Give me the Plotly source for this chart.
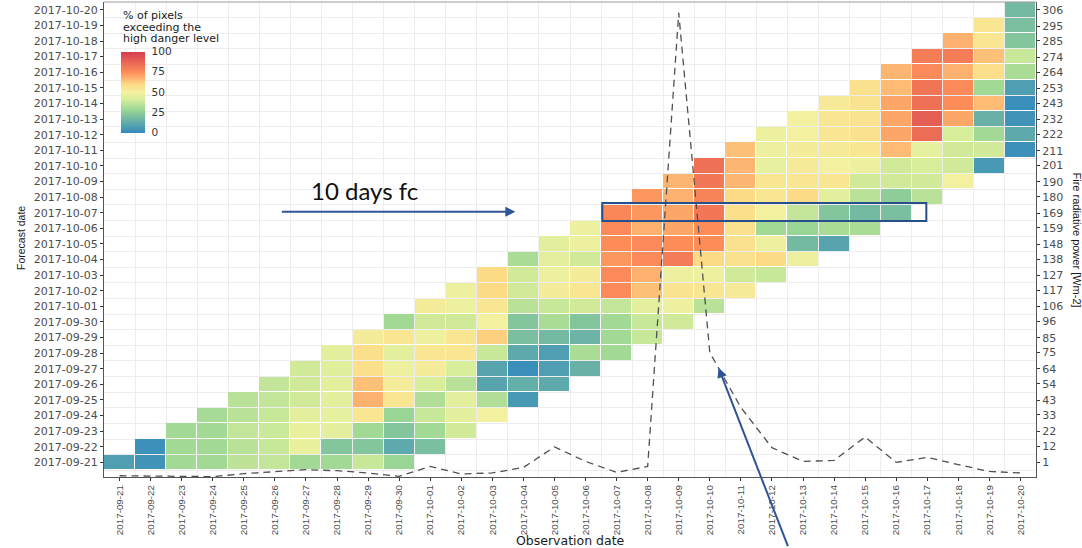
import pandas as pd
import plotly.graph_objects as go

# ---------------- data ----------------
dates = ["2017-09-21", "2017-09-22", "2017-09-23", "2017-09-24", "2017-09-25",
         "2017-09-26", "2017-09-27", "2017-09-28", "2017-09-29", "2017-09-30",
         "2017-10-01", "2017-10-02", "2017-10-03", "2017-10-04", "2017-10-05",
         "2017-10-06", "2017-10-07", "2017-10-08", "2017-10-09", "2017-10-10",
         "2017-10-11", "2017-10-12", "2017-10-13", "2017-10-14", "2017-10-15",
         "2017-10-16", "2017-10-17", "2017-10-18", "2017-10-19", "2017-10-20"]

# % of pixels exceeding the high danger level, one list per lead (obs - forecast, days);
# element i of lead k -> observation date dates[i + k], forecast date dates[i]
pct_lead0 = [8, 3, 30, 31, 35, 37, 40, 45, 52, 30, 52, 48, 60, 32, 45, 48, 77, 73, 67, 84, 65, 48, 50, 53, 57, 67, 80, 68, 55, 18]
pct_lead1 = [4, 30, 30, 35, 37, 40, 44, 58, 55, 40, 48, 60, 40, 45, 48, 76, 73, 68, 82, 67, 48, 50, 55, 56, 66, 76, 80, 55, 20]
pct_lead2 = [30, 30, 37, 38, 40, 45, 58, 45, 48, 40, 55, 40, 48, 40, 75, 68, 70, 78, 67, 46, 52, 55, 56, 70, 83, 68, 65, 22]
pct_lead3 = [30, 35, 39, 45, 45, 65, 48, 55, 55, 50, 35, 52, 52, 73, 76, 70, 82, 60, 55, 53, 53, 57, 70, 84, 76, 58, 38]
pct_lead4 = [36, 38, 47, 46, 68, 52, 52, 55, 62, 22, 38, 55, 76, 76, 75, 75, 58, 55, 55, 50, 55, 70, 90, 75, 30, 32]
pct_lead5 = [37, 47, 45, 55, 55, 42, 42, 38, 20, 32, 40, 76, 68, 80, 75, 57, 50, 60, 55, 48, 66, 85, 70, 66, 8]
pct_lead6 = [30, 22, 30, 28, 33, 35, 10, 12, 18, 22, 37, 65, 48, 60, 57, 30, 37, 45, 40, 40, 46, 42, 15, 2]
pct_lead7 = [30, 22, 22, 38, 45, 10, 2, 8, 16, 30, 45, 56, 48, 57, 48, 28, 22, 35, 40, 42, 40, 30, 4]
pct_lead8 = [38, 12, 30, 45, 33, 14, 8, 32, 30, 38, 48, 55, 40, 60, 18, 32, 18, 25, 40, 40, 40, 12]
pct_lead9 = [28, 20, 40, 50, 6, 12, 15, 30, 38, 40, 35, 53, 38, 48, 10, 32, 20, 35, 50, 6, 3]

# Fire radiative power [Wm-2] per observation date (dashed line)
frp = [-8.0, -8.2, -8.4, -8.6, -6.6, -5.1, -3.9, -4.6, -6.1, -8.4,
       -1.7, -6.8, -6.1, -2.4, 11.4, 1.7, -5.7, -1.7, 304.0, 75.0,
       38.0, 10.9, 1.7, 2.3, 18.1, 1.0, 4.4, -0.5, -5.1, -6.1]

frp_tick_labels = [1, 12, 22, 33, 43, 54, 64, 75, 85, 96, 106, 117, 127, 138, 148,
                   159, 169, 180, 190, 201, 211, 222, 232, 243, 253, 264, 274, 285, 295, 306]
legend_ticks = [0, 25, 50, 75, 100]

# ---------------- build matrix ----------------
leads = [pct_lead0, pct_lead1, pct_lead2, pct_lead3, pct_lead4,
         pct_lead5, pct_lead6, pct_lead7, pct_lead8, pct_lead9]
n = len(dates)
z = [[None] * n for _ in range(n)]
for k, arr in enumerate(leads):
    for i, v in enumerate(arr):
        z[i][i + k] = v

day = pd.Timedelta(days=1)
t0 = pd.Timestamp(dates[0])
t1 = pd.Timestamp(dates[-1])
fmt = "%Y-%m-%d %H:%M:%S"
def ts(offset_days):
    return (t0 + offset_days * day).strftime(fmt)

bottom_pad = 0.935  # rows of empty space below first row
x_range = [ts(-0.5), (t1 + 0.5 * day).strftime(fmt)]
y_range = [ts(-bottom_pad), (t1 + 0.5 * day).strftime(fmt)]
boundaries = [ts(i - 0.5) for i in range(n + 1)]

frp_per_row = (frp_tick_labels[-1] - frp_tick_labels[0]) / (n - 1)
y2_range = [frp_tick_labels[0] - bottom_pad * frp_per_row,
            frp_tick_labels[0] + (n - 0.5) * frp_per_row]

spectral_r = [[0.00, "#3288BD"], [0.28, "#99D594"], [0.42, "#D9EE9B"], [0.50, "#F3F1A0"],
              [0.60, "#FDDA86"], [0.75, "#FC8D59"], [1.00, "#D53E4F"]]

fig = go.Figure()
fig.add_trace(go.Heatmap(
    x=dates, y=dates, z=z, zmin=0, zmax=100,
    colorscale=spectral_r, xgap=1, ygap=1,
    hoverongaps=False,
    colorbar=dict(
        x=(121 - 104) / 932, xanchor="left", xpad=0,
        y=(477 - 92) / 475, yanchor="middle", ypad=0,
        len=81, lenmode="pixels", thickness=24, thicknessmode="pixels",
        tickvals=legend_ticks, ticks="outside", ticklen=5,
        tickcolor="rgba(0,0,0,0)",
        tickfont=dict(family="DejaVu Sans", size=10.5, color="#333333"),
        outlinewidth=0,
    ),
))
fig.add_trace(go.Scatter(
    x=dates, y=frp, yaxis="y2", mode="lines",
    line=dict(color="#505050", width=1.3, dash="7px,5px"),
    showlegend=False, hoverinfo="skip",
))

grid_col = "#ededed"
fig.update_layout(
    template="none",
    width=1082, height=548,
    margin=dict(l=104, r=46, t=2, b=71, autoexpand=False),
    paper_bgcolor="white", plot_bgcolor="white",
    showlegend=False,
    xaxis=dict(
        type="date", range=x_range,
        tickmode="array", tickvals=dates, ticktext=dates, tickangle=-90,
        tickfont=dict(family="Liberation Sans", size=9.8, color="#4d4d4d"),
        ticks="outside", ticklen=3, tickcolor="#333333",
        showgrid=False, zeroline=False,
        minor=dict(tickmode="array", tickvals=boundaries, showgrid=True,
                   gridcolor=grid_col, gridwidth=1, ticks=""),
        showline=True, linecolor="#555555", linewidth=1.2,
    ),
    yaxis=dict(
        type="date", range=y_range,
        tickmode="array", tickvals=dates, ticktext=dates,
        tickfont=dict(family="DejaVu Sans", size=11, color="#4d4d4d"),
        ticks="outside", ticklen=3, tickcolor="#333333",
        showgrid=False, zeroline=False,
        minor=dict(tickmode="array", tickvals=boundaries, showgrid=True,
                   gridcolor=grid_col, gridwidth=1, ticks=""),
        showline=True, linecolor="#555555", linewidth=1.2,
    ),
    yaxis2=dict(
        overlaying="y", side="right", range=y2_range,
        tickmode="array", tickvals=frp_tick_labels,
        ticktext=[str(v) for v in frp_tick_labels],
        tickfont=dict(family="DejaVu Sans", size=11, color="#4d4d4d"),
        ticks="outside", ticklen=3, tickcolor="#333333",
        showgrid=False, zeroline=False,
        showline=True, linecolor="#555555", linewidth=1.2,
    ),
)

# legend background (white box) and top border
fig.add_shape(type="rect", xref="paper", yref="paper",
              x0=0.002, x1=(240 - 104) / 932, y0=(477 - 140) / 475, y1=0.998,
              fillcolor="white", line=dict(width=0), layer="between")
fig.add_shape(type="line", xref="paper", yref="paper", x0=0, x1=1, y0=1, y1=1,
              line=dict(color="#9a9a9a", width=1))

# box around the 10-day forecast row
fig.add_shape(type="rect", xref="x", yref="y",
              x0=ts(15.54), x1=ts(25.97), y0=ts(15.47), y1=ts(16.62),
              line=dict(color="#264f8c", width=2), fillcolor="rgba(0,0,0,0)", layer="above")

ann = []
title_font = dict(family="DejaVu Sans", size=11, color="#1a1a1a")
for txt, ypix in [("% of pixels", 15), ("exceeding the", 27), ("high danger level", 39)]:
    ann.append(dict(text=txt, xref="paper", yref="paper", x=(121 - 104) / 932,
                    y=(477 - ypix) / 475, xanchor="left", yanchor="middle",
                    showarrow=False, font=title_font))

ann.append(dict(text="10 days fc", xref="paper", yref="paper",
                x=(364.5 - 104) / 932, y=(477 - 190) / 475,
                xanchor="center", yanchor="middle", showarrow=False,
                font=dict(family="Lato", size=24, color="#111111")))
ann.append(dict(text="", x=ts(12.74), y=ts(16.06), xref="x", yref="y",
                showarrow=True, ax=-235, ay=0, axref="pixel", ayref="pixel",
                arrowhead=2, arrowsize=1, arrowwidth=2, arrowcolor="#2F5597",
                standoff=0))
ann.append(dict(text="", x=ts(19.28), y=64.8, xref="x", yref="y2",
                showarrow=True, ax=70, ay=180, axref="pixel", ayref="pixel",
                arrowhead=2, arrowsize=1, arrowwidth=2, arrowcolor="#2F5597",
                standoff=0))

ann.append(dict(text="Forecast date", xref="paper", yref="paper",
                x=(21 - 104) / 932, y=(477 - 238) / 475, textangle=-90,
                xanchor="center", yanchor="middle", showarrow=False,
                font=dict(family="Liberation Sans", size=10.5, color="#1a1a1a")))
ann.append(dict(text="Observation date", xref="paper", yref="paper",
                x=0.5, y=(477 - 540) / 475,
                xanchor="center", yanchor="middle", showarrow=False,
                font=dict(family="DejaVu Sans", size=12.5, color="#1a1a1a")))
ann.append(dict(text="Fire radiative power [Wm-2]", xref="paper", yref="paper",
                x=(1076.5 - 104) / 932, y=(477 - 240) / 475, textangle=90,
                xanchor="center", yanchor="middle", showarrow=False,
                font=dict(family="Liberation Sans", size=11, color="#1a1a1a")))
fig.update_layout(annotations=ann)

fig.write_html("out.html")
